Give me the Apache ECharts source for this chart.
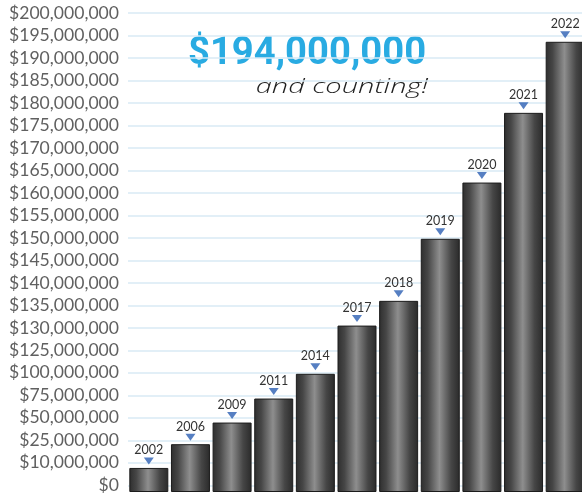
<!DOCTYPE html>
<html>
<head>
<meta charset="utf-8">
<script src="https://cdn.jsdelivr.net/npm/echarts@6/dist/echarts.min.js"></script>
<style>
html,body{margin:0;padding:0;background:#fff;}
#chart{width:582px;height:494px;}
</style>
</head>
<body>
<div id="chart"></div>
<script>
const years = ['2002','2006','2009','2011','2014','2017','2018','2019','2020','2021','2022'];
const amounts = [7.7e6, 22.4e6, 44.7e6, 71.4e6, 98.9e6, 130.5e6, 136.0e6, 149.8e6, 162.3e6, 177.8e6, 193.6e6];
const tickValues = [0, 10e6, 25e6, 50e6, 75e6, 100e6, 125e6, 130e6, 135e6, 140e6, 145e6, 150e6,
  155e6, 160e6, 165e6, 170e6, 175e6, 180e6, 185e6, 190e6, 195e6, 200e6];
const titleText = '$194,000,000';
const subtitleText = 'and counting!';

// piecewise-linear axis scale: dollar value -> evenly spaced tick position
function toAxis(v) {
  for (let i = 0; i < tickValues.length - 1; i++) {
    if (v <= tickValues[i + 1]) {
      return i + (v - tickValues[i]) / (tickValues[i + 1] - tickValues[i]);
    }
  }
  return tickValues.length - 1;
}
function money(v) {
  return '$' + String(Math.round(v)).replace(/\B(?=(\d{3})+(?!\d))/g, ',');
}
const tickPos = tickValues.map((_, i) => i);
const barData = amounts.map(toAxis);

const chart = echarts.init(document.getElementById('chart'), null, {renderer: 'canvas'});
chart.setOption({
  animation: false,
  backgroundColor: '#ffffff',
  grid: {left: 128, right: -4, top: 13, bottom: 2, containLabel: false, outerBoundsMode: 'none'},
  xAxis: {
    type: 'category',
    data: years,
    axisLine: {show: false},
    axisTick: {show: false},
    axisLabel: {show: false},
    splitLine: {show: false}
  },
  yAxis: {
    type: 'value',
    min: -0.3,
    max: tickValues.length - 1,
    startValue: -0.3,
    axisLine: {show: false},
    axisTick: {show: false, customValues: tickPos},
    axisLabel: {
      customValues: tickPos,
      formatter: function (v) { return money(tickValues[Math.round(v)]); },
      color: '#606060',
      fontFamily: 'Lato',
      fontSize: 17.6,
      margin: 9
    },
    splitLine: {show: true, lineStyle: {color: '#d9eaf4', width: 1.5}}
  },
  series: [
    {
      type: 'bar',
      data: barData,
      barWidth: 39,
      itemStyle: {
        color: new echarts.graphic.LinearGradient(0, 0, 1, 0, [
          {offset: 0, color: '#2e2e2e'},
          {offset: 0.18, color: '#464646'},
          {offset: 0.48, color: '#8e8e8e'},
          {offset: 0.78, color: '#464646'},
          {offset: 1, color: '#2a2a2a'}
        ]),
        borderColor: '#1c1c1c',
        borderWidth: 1
      },
      label: {
        show: true,
        position: 'top',
        distance: 11,
        formatter: '{b}',
        color: '#333333',
        fontFamily: 'Lato',
        fontSize: 12.5
      },
      z: 2
    },
    {
      type: 'scatter',
      data: barData,
      symbol: 'path://M0,0 L10,0 L5,7 Z',
      symbolSize: [10, 7],
      symbolOffset: [0, -7],
      itemStyle: {color: '#2c5fb3'},
      z: 3
    }
  ],
  graphic: [
    {
      type: 'text',
      x: 188,
      y: 35,
      scaleX: 0.98,
      style: {
        text: titleText,
        fill: '#29abe2',
        font: 'bold 39px Roboto'
      }
    },
    {
      type: 'text',
      x: 428,
      y: 77,
      scaleX: 1.45,
      style: {
        text: subtitleText,
        fill: '#1e1e1e',
        align: 'right',
        font: 'italic 300 20px "Open Sans"'
      }
    }
  ]
});
</script>
</body>
</html>
